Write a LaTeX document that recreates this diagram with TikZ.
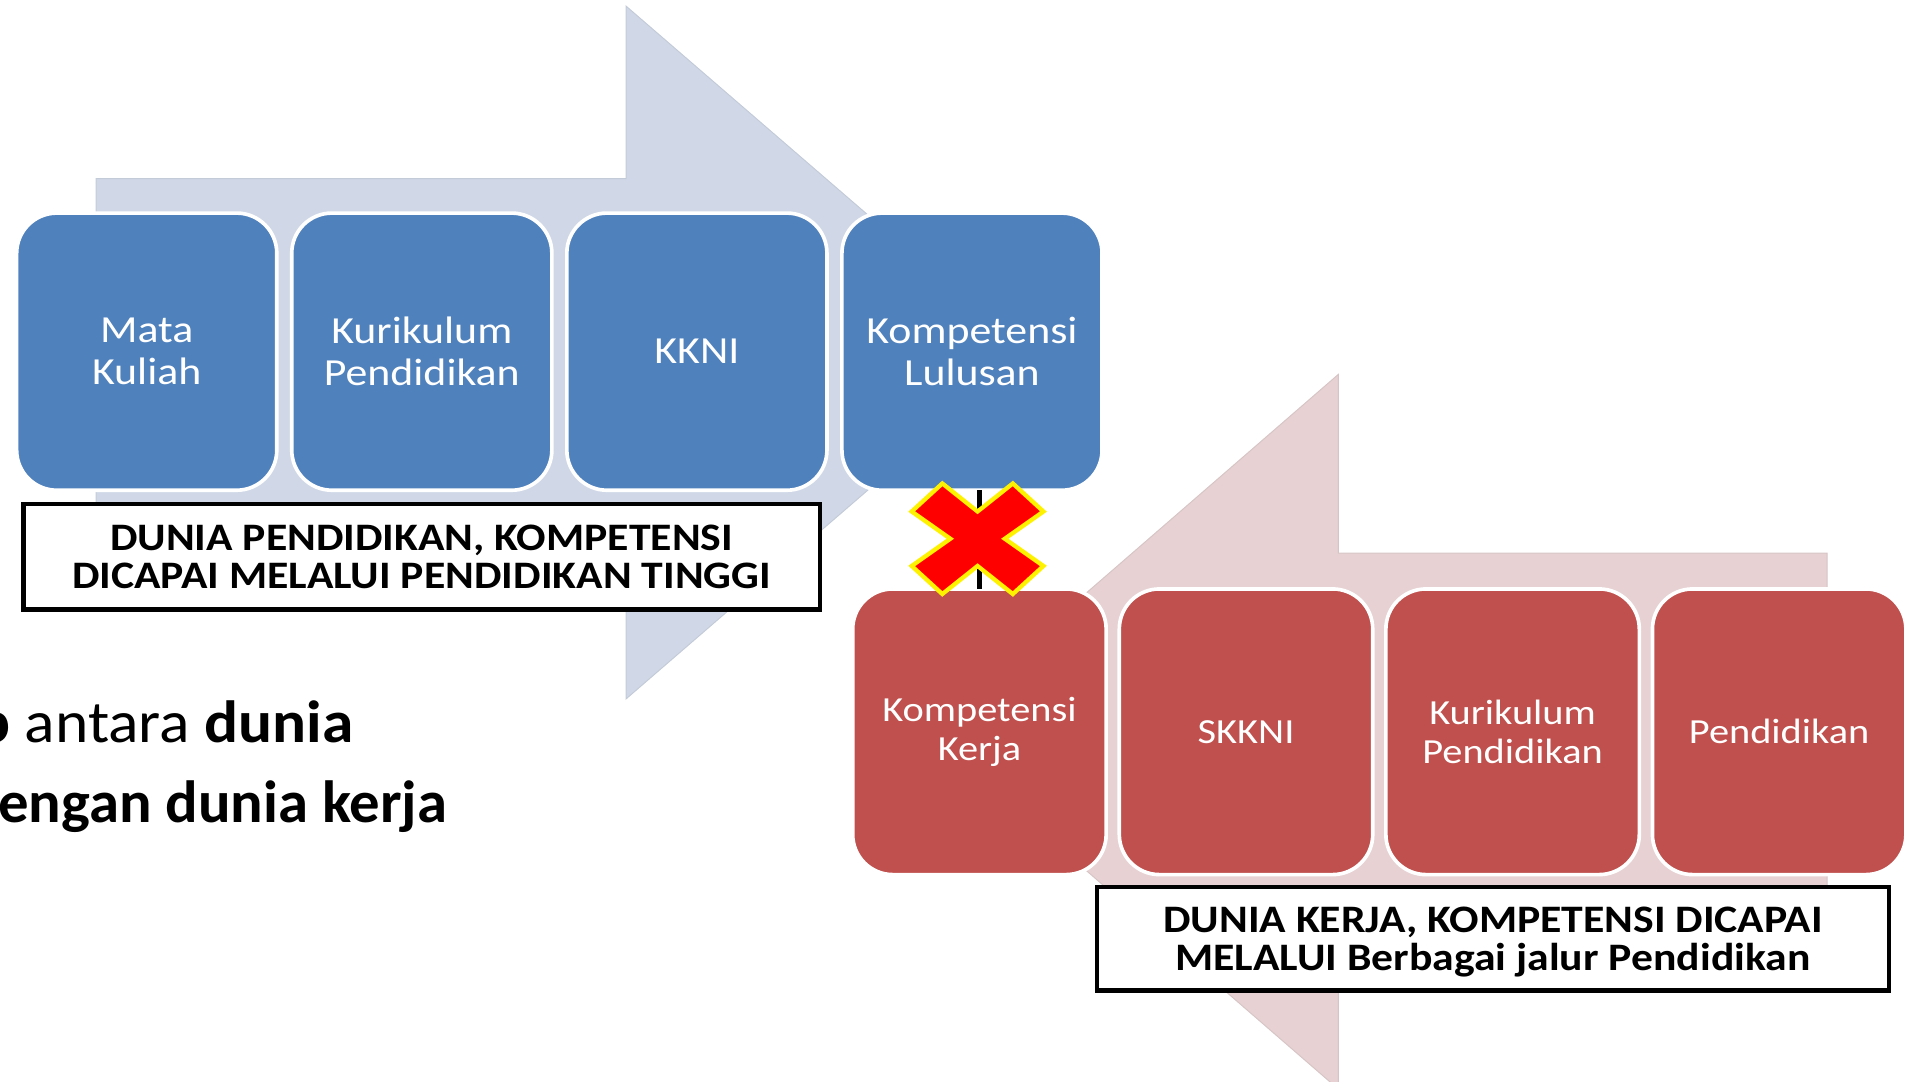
\documentclass[tikz,border=0pt]{standalone}
\usepackage{fontspec}
\setmainfont{Carlito}
\newfontfamily\hurufkotak{Carlito}[FakeStretch=1.145]
\newfontfamily\hurufket{Carlito}[FakeStretch=1.123]
\newfontfamily\gapsatu{Carlito}[FakeStretch=1.065]
\newfontfamily\gapdua{Carlito}[FakeStretch=1.02]
\usetikzlibrary{positioning, calc, shapes}

\definecolor{biru}{HTML}{4F81BD}
\definecolor{merah}{HTML}{C0504D}
\definecolor{panahbiru}{HTML}{D0D8E8}
\definecolor{panahmerah}{HTML}{E7D1D2}

\tikzset{
  blokbiru/.style={rounded corners=33pt, fill=biru, draw=white, line width=3pt,
    minimum width=214pt, minimum height=228pt, inner sep=0pt, outer sep=0pt,
    text=white, align=center, font=\hurufkotak\fontsize{31.5}{34.5}\selectfont},
  blokmerah/.style={blokbiru, fill=merah, minimum width=208.5pt, minimum height=235pt,
    font=\hurufkotak\fontsize{29}{32}\selectfont},
  keterangan/.style={draw=black, fill=white, line width=3.5pt, inner sep=0pt,
    outer sep=0pt, align=center, text depth=0pt,
    font=\hurufket\bfseries\fontsize{32}{31.6}\selectfont},
}

\begin{document}
\begin{tikzpicture}[x=1pt,y=-1pt]
\useasboundingbox (0,0) rectangle (1568,890);
% panah latar
\filldraw[fill=panahbiru, draw=panahbiru!85!gray, line width=0.8pt]
  (79,147) -- (515,147) -- (515,5) -- (845,290) -- (515,575) -- (515,433) -- (79,433) -- cycle;
\filldraw[fill=panahmerah, draw=panahmerah!85!gray, line width=0.8pt]
  (1503,455) -- (1101,455) -- (1101,308) -- (762,602) -- (1101,896) -- (1101,749) -- (1503,749) -- cycle;

% dunia pendidikan
\node[blokbiru] (matakuliah) at (120.7,289.3) {Mata\\Kuliah};
\node[blokbiru, right=12.3pt of matakuliah] (kurikulum) {Kurikulum\\Pendidikan};
\node[blokbiru, right=12.3pt of kurikulum] (kkni) {KKNI};
\node[blokbiru, right=12.3pt of kkni] (lulusan) {Kompetensi\\Lulusan};
\node[keterangan, minimum width=655pt, minimum height=87pt] (ketpendidikan) at (346.8,457.9)
  {DUNIA PENDIDIKAN, KOMPETENSI\\DICAPAI MELALUI PENDIDIKAN TINGGI};

% dunia kerja
\node[blokmerah] (kerja) at (805.75,602) {Kompetensi\\Kerja};
\node[blokmerah, right=10.8pt of kerja] (skkni) {SKKNI};
\node[blokmerah, right=10.8pt of skkni] (kurikulumkerja) {Kurikulum\\Pendidikan};
\node[blokmerah, right=10.8pt of kurikulumkerja] (pendidikan) {Pendidikan};
\node[keterangan, minimum width=651.5pt, minimum height=85pt] (ketkerja) at (1228.2,772.4)
  {DUNIA KERJA, KOMPETENSI DICAPAI\\MELALUI Berbagai jalur Pendidikan};

% gap
\draw[line width=3.5pt] (kerja.north) -- (kerja.north |- lulusan.south);
\filldraw[fill=red, draw=yellow, line width=3.5pt, line join=miter, shift={(804.2,443.2)}]
  (-29,-45.5) -- (0,-22.4) -- (29,-45.5) -- (54.2,-22.4) -- (22.4,0) -- (54.2,22.4)
  -- (29,45.5) -- (0,22.4) -- (-29,45.5) -- (-54.2,22.4) -- (-22.4,0) -- (-54.2,-22.4) -- cycle;

\node[anchor=base east, inner sep=0pt, font=\gapsatu\fontsize{49}{60}\selectfont] (gap1) at (291,611)
  {\textbf{Gap} antara \textbf{dunia}};
\node[anchor=base east, inner sep=0pt, font=\gapdua\bfseries\fontsize{49}{60}\selectfont] (gap2) at (368,677)
  {dengan dunia kerja};
\end{tikzpicture}
\end{document}
